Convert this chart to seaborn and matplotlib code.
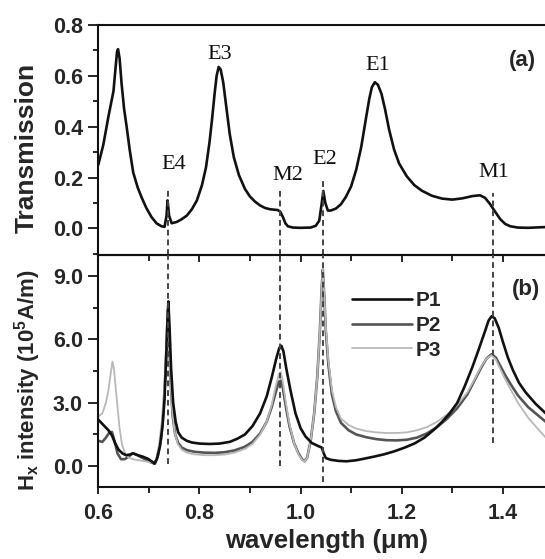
import numpy as np
import pandas as pd
import matplotlib
matplotlib.use("Agg")
import matplotlib.pyplot as plt
from matplotlib.ticker import MultipleLocator, FormatStrFormatter
import seaborn as sns

# ---------------- data ----------------
wl_T = [0.600, 0.610, 0.620, 0.626, 0.630, 0.634, 0.637, 0.639, 0.642, 0.646, 0.651, 0.656,
        0.662, 0.669, 0.678, 0.686, 0.695, 0.705, 0.715, 0.725, 0.731, 0.735, 0.737, 0.740,
        0.745, 0.755, 0.765, 0.775, 0.785, 0.795, 0.805, 0.813, 0.820, 0.825, 0.830, 0.834,
        0.838, 0.842, 0.847, 0.853, 0.860, 0.868, 0.878, 0.890, 0.900, 0.910, 0.920, 0.930,
        0.940, 0.950, 0.955, 0.960, 0.965, 0.970, 0.975, 0.985, 1.000, 1.020, 1.030, 1.037,
        1.042, 1.045, 1.049, 1.054, 1.060, 1.070, 1.080, 1.090, 1.100, 1.110, 1.120, 1.130,
        1.136, 1.141, 1.147, 1.153, 1.160, 1.167, 1.175, 1.185, 1.195, 1.210, 1.225, 1.240,
        1.260, 1.280, 1.300, 1.320, 1.340, 1.355, 1.365, 1.375, 1.385, 1.395, 1.405, 1.415,
        1.430, 1.450, 1.485]
transmission = [0.25, 0.33, 0.44, 0.50, 0.54, 0.63, 0.695, 0.705, 0.67, 0.57, 0.47, 0.40,
                0.31, 0.22, 0.16, 0.12, 0.08, 0.045, 0.02, 0.008, 0.006, 0.05, 0.11, 0.05,
                0.02, 0.025, 0.036, 0.05, 0.075, 0.11, 0.17, 0.24, 0.34, 0.43, 0.53, 0.60,
                0.635, 0.625, 0.575, 0.48, 0.37, 0.28, 0.21, 0.155, 0.125, 0.105, 0.09, 0.08,
                0.075, 0.073, 0.072, 0.065, 0.045, 0.02, 0.008, 0.003, 0.002, 0.003, 0.01, 0.03,
                0.10, 0.147, 0.10, 0.07, 0.07, 0.078, 0.095, 0.125, 0.165, 0.23, 0.32, 0.44,
                0.51, 0.555, 0.575, 0.565, 0.53, 0.47, 0.39, 0.31, 0.255, 0.205, 0.17, 0.148,
                0.128, 0.117, 0.113, 0.118, 0.127, 0.13, 0.12, 0.095, 0.065, 0.036, 0.017, 0.008,
                0.003, 0.002, 0.005]

wl_P1 = [0.600, 0.610, 0.620, 0.627, 0.633, 0.640, 0.648, 0.655, 0.662, 0.669, 0.678, 0.688,
         0.698, 0.706, 0.711, 0.716, 0.722, 0.727, 0.731, 0.734, 0.737, 0.7385, 0.741, 0.744,
         0.748, 0.753, 0.758, 0.765, 0.775, 0.785, 0.800, 0.820, 0.840, 0.860, 0.875, 0.890,
         0.905, 0.920, 0.933, 0.943, 0.952, 0.958, 0.962, 0.966, 0.972, 0.980, 0.990, 1.000,
         1.010, 1.022, 1.035, 1.042, 1.046, 1.050, 1.060, 1.075, 1.091, 1.110, 1.125, 1.145,
         1.165, 1.185, 1.205, 1.225, 1.245, 1.265, 1.280, 1.295, 1.310, 1.325, 1.340, 1.352,
         1.365, 1.372, 1.378, 1.384, 1.392, 1.400, 1.410, 1.420, 1.432, 1.445, 1.465, 1.485]
H_P1 = [2.2, 1.95, 1.7, 1.45, 1.1, 0.78, 0.6, 0.52, 0.55, 0.6, 0.52, 0.45,
        0.35, 0.22, 0.12, 0.35, 0.95, 1.9, 3.2, 5.0, 7.0, 7.8, 6.5, 4.6,
        3.0, 2.1, 1.6, 1.35, 1.2, 1.12, 1.07, 1.05, 1.07, 1.15, 1.3, 1.5,
        1.9, 2.5, 3.3, 4.2, 5.1, 5.6, 5.7, 5.45, 4.6, 3.6, 2.5, 1.8,
        1.4, 1.1, 0.95, 0.88, 0.6, 0.38, 0.3, 0.25, 0.23, 0.28, 0.35, 0.45,
        0.56, 0.7, 0.87, 1.07, 1.35, 1.75, 2.1, 2.5, 3.0, 3.8, 4.7, 5.5,
        6.4, 6.9, 7.1, 7.0, 6.55, 5.9, 5.15, 4.55, 3.95, 3.5, 2.95, 2.5]

wl_P2 = [0.600, 0.608, 0.615, 0.622, 0.627, 0.632, 0.638, 0.645, 0.652, 0.660, 0.668, 0.675,
         0.685, 0.695, 0.705, 0.712, 0.718, 0.724, 0.729, 0.733, 0.7365, 0.738, 0.740, 0.743,
         0.747, 0.752, 0.758, 0.765, 0.775, 0.790, 0.810, 0.830, 0.850, 0.870, 0.890, 0.905,
         0.920, 0.933, 0.943, 0.951, 0.957, 0.961, 0.965, 0.971, 0.978, 0.987, 0.996, 1.003,
         1.008, 1.013, 1.020, 1.027, 1.033, 1.038, 1.042, 1.044, 1.047, 1.050, 1.055, 1.062,
         1.070, 1.080, 1.095, 1.110, 1.130, 1.150, 1.170, 1.190, 1.210, 1.230, 1.250, 1.270,
         1.290, 1.310, 1.330, 1.345, 1.358, 1.368, 1.378, 1.386, 1.395, 1.405, 1.415, 1.430,
         1.450, 1.470, 1.485]
H_P2 = [1.2, 1.15, 1.35, 1.6, 1.62, 1.2, 0.6, 0.33, 0.33, 0.45, 0.62, 0.55,
        0.42, 0.3, 0.17, 0.12, 0.5, 1.3, 2.6, 4.5, 6.8, 7.4, 6.2, 4.0,
        2.4, 1.5, 1.1, 0.88, 0.76, 0.68, 0.64, 0.63, 0.66, 0.75, 0.92, 1.15,
        1.55, 2.1, 2.8, 3.5, 4.0, 4.05, 3.7, 2.8, 1.9, 1.1, 0.6, 0.33,
        0.23, 0.4, 1.2, 2.5, 4.2, 6.3, 8.5, 9.3, 8.0, 6.4, 4.8, 3.4,
        2.6, 2.05, 1.7, 1.5, 1.37, 1.28, 1.23, 1.22, 1.25, 1.35, 1.55, 1.85,
        2.25, 2.75, 3.4, 4.1, 4.7, 5.1, 5.3, 5.15, 4.75, 4.3, 3.9, 3.35,
        2.8, 2.4, 2.1]

wl_P3 = [0.600, 0.608, 0.615, 0.620, 0.624, 0.628, 0.631, 0.634, 0.638, 0.642, 0.647, 0.653,
         0.660, 0.670, 0.680, 0.690, 0.700, 0.708, 0.714, 0.720, 0.726, 0.731, 0.735, 0.737,
         0.739, 0.742, 0.746, 0.751, 0.757, 0.765, 0.775, 0.790, 0.810, 0.830, 0.850, 0.870,
         0.890, 0.905, 0.920, 0.933, 0.943, 0.951, 0.957, 0.961, 0.965, 0.971, 0.978, 0.987,
         0.996, 1.003, 1.008, 1.013, 1.020, 1.027, 1.033, 1.038, 1.042, 1.044, 1.047, 1.050,
         1.055, 1.062, 1.070, 1.080, 1.095, 1.110, 1.130, 1.150, 1.170, 1.190, 1.210, 1.230,
         1.250, 1.270, 1.290, 1.310, 1.330, 1.345, 1.358, 1.368, 1.378, 1.386, 1.395, 1.405,
         1.415, 1.430, 1.450, 1.470, 1.485]
H_P3 = [2.35, 2.5, 3.0, 3.6, 4.3, 4.95, 4.6, 3.8, 2.8, 1.8, 1.0, 0.6,
        0.4, 0.32, 0.28, 0.24, 0.2, 0.15, 0.3, 1.0, 2.2, 4.0, 6.0, 6.9,
        6.4, 4.5, 2.7, 1.6, 1.05, 0.78, 0.64, 0.56, 0.52, 0.52, 0.55, 0.64,
        0.82, 1.05, 1.5, 2.1, 2.9, 3.8, 4.35, 4.45, 4.0, 3.0, 2.0, 1.1,
        0.55, 0.3, 0.22, 0.4, 1.2, 2.5, 4.2, 6.3, 8.5, 9.35, 8.1, 6.6,
        5.0, 3.6, 2.8, 2.25, 1.95, 1.78, 1.66, 1.6, 1.57, 1.57, 1.6, 1.7,
        1.85, 2.1, 2.45, 2.9, 3.5, 4.15, 4.75, 5.1, 5.25, 5.05, 4.6, 4.1,
        3.65, 3.0, 2.3, 1.75, 1.35]

series_names = ["P1", "P2", "P3"]
series_colors = ["#111111", "#555555", "#b8b8b8"]
series_widths = [1.9, 1.9, 1.3]

mode_labels = ["E4", "E3", "M2", "E2", "E1", "M1"]
mode_label_x = [0.750, 0.841, 0.974, 1.0485, 1.152, 1.383]
mode_label_y = [0.252, 0.684, 0.206, 0.272, 0.642, 0.220]

marker_x = [0.737, 0.960, 1.045, 1.380]
marker_top_start = [0.154, 0.147, 0.187, 0.141]
marker_bottom_end = [0.08, 0.0, -0.77, 1.1]

t_ticks = [0.0, 0.2, 0.4, 0.6, 0.8]
h_ticks = [0.0, 3.0, 6.0, 9.0]
x_ticks = [0.6, 0.8, 1.0, 1.2, 1.4]

# ---------------- style ----------------
sns.set_style("ticks")
plt.rcParams["font.family"] = ["Liberation Sans", "DejaVu Sans"]
plt.rcParams["mathtext.fontset"] = "custom"
plt.rcParams["mathtext.rm"] = "Liberation Sans:bold"
plt.rcParams["mathtext.bf"] = "Liberation Sans:bold"
plt.rcParams["mathtext.it"] = "Liberation Sans:bold"

fig = plt.figure(figsize=(5.45, 5.59), dpi=100)
ax1 = fig.add_axes([0.1804, 0.5438, 0.8349, 0.4114])
ax2 = fig.add_axes([0.1804, 0.1283, 0.8349, 0.4156], sharex=ax1)

tick_font = dict(family="Liberation Sans", weight="bold", size=15.5)

# top panel
sns.lineplot(x=wl_T, y=transmission, color="#111111", lw=1.9, ax=ax1, legend=False, sort=False)
ax1.set_xlim(0.6, 1.5)
ax1.set_ylim(-0.105, 0.8)
ax1.set_yticks(t_ticks)
ax1.yaxis.set_minor_locator(MultipleLocator(0.1))
ax1.yaxis.set_major_formatter(FormatStrFormatter("%.1f"))
ax1.tick_params(axis="y", which="major", direction="out", length=7, width=1.4, pad=4)
ax1.tick_params(axis="y", which="minor", direction="out", length=3.6, width=1.4)
ax1.tick_params(axis="x", which="both", bottom=False, top=False, labelbottom=False)
for lab in ax1.get_yticklabels():
    lab.set_fontproperties(matplotlib.font_manager.FontProperties(**tick_font))
ax1.set_xlabel("")
ax1.set_ylabel("")

for lbl, lx, ly in zip(mode_labels, mode_label_x, mode_label_y):
    ax1.text(lx, ly, lbl, ha="center", va="center", family="Liberation Serif",
             fontsize=16, color="#111111")
ax1.text(1.439, 0.661, "(a)", ha="center", va="center", fontsize=16, weight="bold",
         family="Liberation Sans")

for mx, ms in zip(marker_x, marker_top_start):
    ax1.vlines(mx, -0.105, ms, colors="#444444", linestyles=(0, (3, 2)), lw=1.4)

# bottom panel
for name, wl, hv, col, lw in zip(series_names, [wl_P1, wl_P2, wl_P3], [H_P1, H_P2, H_P3],
                                  series_colors, series_widths):
    sns.lineplot(x=wl, y=hv, color=col, lw=lw, label=name, ax=ax2, sort=False)
ax2.lines[0].set_zorder(3)

for mx, me in zip(marker_x, marker_bottom_end):
    ax2.vlines(mx, me, 10.0, colors="#444444", linestyles=(0, (3, 2)), lw=1.4, zorder=4)

ax2.set_ylim(-1.0, 10.0)
ax2.set_yticks(h_ticks)
ax2.yaxis.set_minor_locator(MultipleLocator(1.5))
ax2.yaxis.set_major_formatter(FormatStrFormatter("%.1f"))
ax2.set_xticks(x_ticks)
ax2.xaxis.set_minor_locator(MultipleLocator(0.1))
ax2.xaxis.set_major_formatter(FormatStrFormatter("%.1f"))
ax2.tick_params(axis="y", which="major", direction="out", length=7, width=1.4, pad=4)
ax2.tick_params(axis="y", which="minor", direction="out", length=3.6, width=1.4)
ax2.tick_params(axis="x", which="major", direction="out", length=5, width=1.4, pad=6,
                top=True)
ax2.tick_params(axis="x", which="minor", direction="out", length=4, width=1.4, top=True)
for t in ax2.xaxis.get_major_ticks() + ax2.xaxis.get_minor_ticks():
    t.tick2line.set_marker(matplotlib.lines.TICKDOWN)
for lab in ax2.get_yticklabels() + ax2.get_xticklabels():
    lab.set_fontproperties(matplotlib.font_manager.FontProperties(**tick_font))
ax2.set_xlabel("")
ax2.set_ylabel("")
ax2.text(1.4455, 8.37, "(b)", ha="center", va="center", fontsize=16, weight="bold",
         family="Liberation Sans")

leg = ax2.legend(loc="upper left", bbox_to_anchor=(0.557, 0.845), frameon=False,
                 handlelength=2.9, handletextpad=0.15, labelspacing=0.28,
                 borderpad=0, borderaxespad=0,
                 prop=matplotlib.font_manager.FontProperties(family="Liberation Sans",
                                                             weight="bold", size=15))

for ax in (ax1, ax2):
    for side in ("left", "top", "bottom"):
        ax.spines[side].set_linewidth(1.5)
        ax.spines[side].set_color("#111111")
    ax.spines["right"].set_visible(False)
    ax.set_facecolor("none")

fig.text(0.049, 0.736, "Transmission", rotation=90, ha="center", va="center",
         fontsize=19, weight="bold", family="Liberation Sans")
fig.text(0.050, 0.320, r"H$_\mathregular{x}$ intensity (10$^\mathregular{5}$A/m)",
         rotation=90, ha="center", va="center", fontsize=16, weight="bold",
         family="Liberation Sans")
fig.text(0.599, 0.032, "wavelength (μm)", ha="center", va="center", fontsize=18.5,
         weight="bold", family="Liberation Sans")

fig.savefig("out.png", dpi=100)
